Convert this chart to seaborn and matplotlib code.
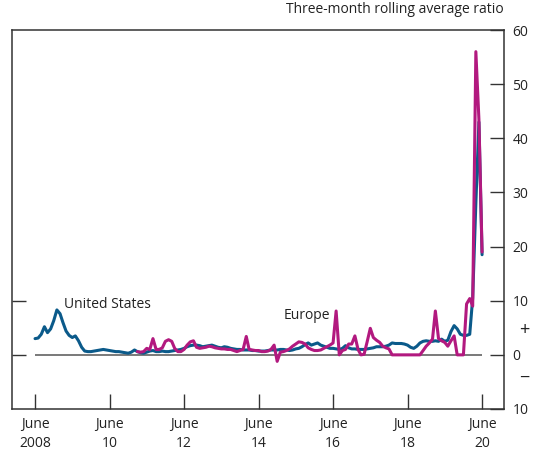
import numpy as np
import pandas as pd
import seaborn as sns
import matplotlib.pyplot as plt
from matplotlib.transforms import blended_transform_factory

# Setup style
sns.set_theme(style="white")
plt.rcParams['font.family'] = ['Open Sans', 'DejaVu Sans']

# --- Data (three-month rolling average ratio, monthly) ---
us_start = '2008-06-01'
us_values = [
    3.0, 3.1, 3.8, 5.2, 4.1, 4.8, 6.3, 8.3, 7.6, 6.0,
    4.4, 3.6, 3.2, 3.5, 2.6, 1.4, 0.7, 0.6, 0.6, 0.7,
    0.8, 0.9, 1.0, 0.9, 0.8, 0.7, 0.6, 0.6, 0.5, 0.4,
    0.3, 0.5, 0.9, 0.6, 0.4, 0.3, 0.5, 0.7, 0.8, 0.6,
    0.6, 0.7, 0.6, 0.6, 0.7, 0.8, 0.9, 1.0, 1.2, 1.5,
    1.7, 1.8, 1.8, 1.7, 1.5, 1.6, 1.7, 1.8, 1.6, 1.4,
    1.3, 1.5, 1.4, 1.2, 1.1, 1.0, 1.0, 0.9, 0.9, 0.9,
    0.8, 0.8, 0.7, 0.7, 0.7, 0.8, 0.9, 0.9, 0.9, 1.0,
    1.0, 0.9, 0.8, 0.9, 1.1, 1.2, 1.5, 1.9, 2.2, 1.8,
    2.0, 2.2, 1.8, 1.6, 1.4, 1.2, 1.2, 1.1, 1.0, 1.2,
    1.7, 1.3, 1.1, 1.1, 1.0, 1.0, 1.0, 1.1, 1.2, 1.3,
    1.5, 1.5, 1.5, 1.6, 1.8, 2.2, 2.1, 2.1, 2.1, 2.0,
    1.8, 1.4, 1.2, 1.6, 2.2, 2.5, 2.6, 2.5, 2.5, 2.6,
    2.5, 2.9, 2.5, 2.7, 4.3, 5.4, 4.8, 3.8, 3.6, 3.6,
    3.8, 10.5, 28.0, 43.0, 18.5,
]

europe_start = '2011-03-01'
europe_values = [
    0.6, 0.5, 0.6, 1.2, 1.0, 3.0, 1.0, 1.0, 1.3, 2.5,
    2.8, 2.5, 1.2, 0.6, 0.6, 1.0, 1.8, 2.4, 2.6, 1.4,
    1.2, 1.3, 1.4, 1.6, 1.5, 1.3, 1.2, 1.1, 1.1, 1.0,
    1.0, 0.8, 0.6, 0.8, 1.0, 3.4, 1.0, 0.9, 0.8, 0.8,
    0.6, 0.6, 0.7, 1.0, 1.8, -1.2, 0.5, 0.6, 0.8, 1.1,
    1.6, 2.0, 2.4, 2.3, 2.0, 1.3, 1.0, 0.8, 0.8, 0.9,
    1.2, 1.5, 1.8, 2.2, 8.1, 0.0, 0.8, 1.0, 2.0, 2.0,
    3.5, 1.0, 0.0, 0.1, 2.4, 4.9, 3.2, 2.7, 2.3, 1.6,
    1.3, 1.1, 0.0, 0.0, 0.0, 0.0, 0.0, 0.0, 0.0, 0.0,
    0.0, 0.0, 0.8, 1.6, 2.2, 2.9, 8.1, 3.0, 2.6, 2.3,
    1.6, 2.6, 3.5, 0.0, 0.0, 0.0, 9.4, 10.4, 9.0, 56.0,
    43.5, 19.0,
]

tick_years = [2008, 2010, 2012, 2014, 2016, 2018, 2020]
tick_labels = ['June\n2008', 'June\n10', 'June\n12', 'June\n14',
               'June\n16', 'June\n18', 'June\n20']
y_ticks = [-10, 0, 10, 20, 30, 40, 50, 60]

US_COLOR = '#0b5a8a'
EU_COLOR = '#b2197f'
AXIS_COLOR = '#333333'
TEXT_COLOR = '#222222'
FS = 10

us = pd.DataFrame({'date': pd.date_range(us_start, periods=len(us_values), freq='MS'),
                   'value': us_values})
eu = pd.DataFrame({'date': pd.date_range(europe_start, periods=len(europe_values), freq='MS'),
                   'value': europe_values})

fig = plt.figure(figsize=(5.35, 4.5), dpi=100)
ax = fig.add_axes([12 / 535, 41 / 450, 492 / 535, 379 / 450])

# zero line across the data span
ax.hlines(0, us['date'].iloc[0], us['date'].iloc[-1], color='#555555', lw=1.1, zorder=1)

sns.lineplot(data=us, x='date', y='value', color=US_COLOR, lw=2.2, ax=ax, zorder=3)
sns.lineplot(data=eu, x='date', y='value', color=EU_COLOR, lw=2.2, ax=ax, zorder=4)

ax.set_xlim(pd.Timestamp('2007-10-19'), pd.Timestamp('2021-01-02'))
ax.set_ylim(-10, 60)
ax.set_xlabel('')
ax.set_ylabel('')

# x axis
ax.set_xticks([pd.Timestamp(f'{y}-06-01') for y in tick_years])
ax.set_xticklabels(tick_labels, fontsize=FS, color=TEXT_COLOR, linespacing=1.3)
ax.tick_params(axis='x', direction='in', length=11, width=1.0, color=AXIS_COLOR,
               pad=6, bottom=True, top=False)

# y axis on the right
ax.yaxis.tick_right()
ax.set_yticks(y_ticks)
ax.set_yticklabels([str(abs(v)) for v in y_ticks], fontsize=FS, color=TEXT_COLOR)
ax.tick_params(axis='y', direction='in', length=10, width=1.0, color=AXIS_COLOR,
               pad=6, left=False, right=True)

# short inward marks on the left side
sec = ax.secondary_yaxis('left')
sec.set_yticks([0, 10])
sec.tick_params(direction='in', length=10, width=1.0, color=AXIS_COLOR, labelleft=False)
sec.spines['left'].set_visible(False)

for s in ax.spines.values():
    s.set_visible(True)
    s.set_color(AXIS_COLOR)
    s.set_linewidth(1.1)

trans = blended_transform_factory(ax.transAxes, ax.transData)
ax.text(1.03, 4.6, '+', transform=trans, fontsize=13, color=TEXT_COLOR, va='center', ha='left')
ax.text(1.03, -4.3, '\u2212', transform=trans, fontsize=13, color=TEXT_COLOR, va='center', ha='left')

ax.text(1.0, 1.035, 'Three-month rolling average ratio', transform=ax.transAxes,
        fontsize=FS, color=TEXT_COLOR, ha='right', va='bottom')

ax.text(pd.Timestamp('2009-03-15'), 9.3, 'United States', fontsize=FS,
        color=TEXT_COLOR, ha='left', va='center')
ax.text(pd.Timestamp('2015-02-01'), 7.3, 'Europe', fontsize=FS,
        color=TEXT_COLOR, ha='left', va='center')

fig.savefig('out.png', dpi=100)
